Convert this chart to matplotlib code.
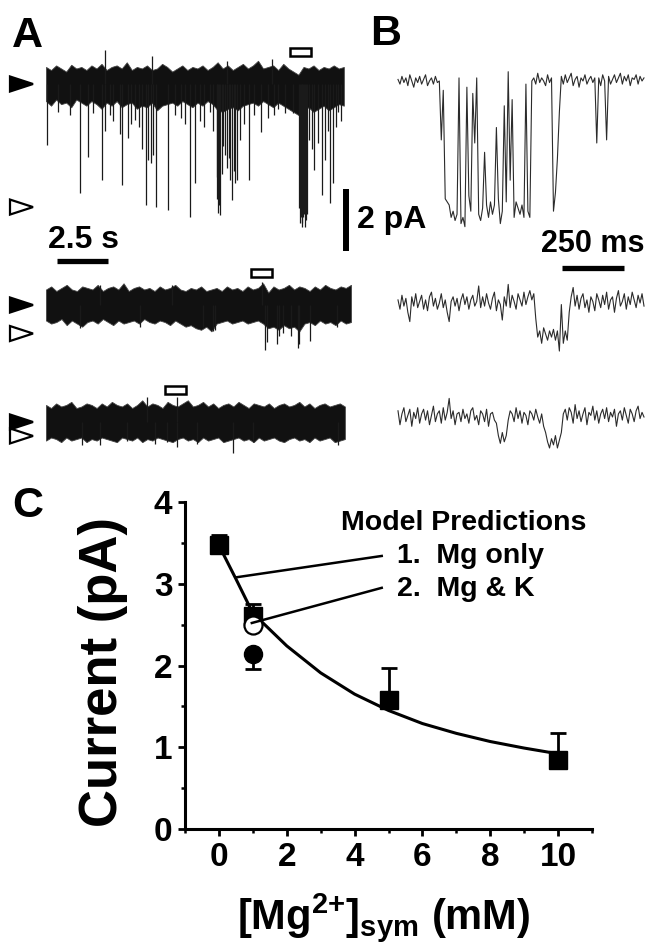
import numpy as np
import matplotlib

matplotlib.use("Agg")

import matplotlib.pyplot as plt  # noqa: E402
from matplotlib.patches import Polygon, Rectangle  # noqa: E402
from matplotlib.ticker import MultipleLocator  # noqa: E402

plt.rcParams["font.family"] = ["Liberation Sans", "DejaVu Sans"]
plt.rcParams["font.weight"] = "bold"
plt.rcParams["mathtext.fontset"] = "custom"
plt.rcParams["mathtext.rm"] = "Liberation Sans:bold"
plt.rcParams["mathtext.bf"] = "Liberation Sans:bold"
plt.rcParams["mathtext.it"] = "Liberation Sans:bold"
plt.rcParams["mathtext.default"] = "rm"

# --------------------------------------------------------------------------
# Data
# --------------------------------------------------------------------------

# Panel A: 15 s records, envelope of the noisy closed-channel band (pA)
A1_top = [0.55, 0.45, 0.6, 0.5, 0.4, 0.62, 0.5, 0.55, 0.45, 0.6,
          0.5, 0.65, 0.45, 0.55, 0.6, 0.5, 0.7, 0.45, 0.55, 0.5,
          0.6, 0.45, 0.5, 0.65, 0.55, 0.4, 0.5, 0.6, 0.45, 0.55,
          0.5, 0.6, 0.45, 0.55, 0.7, 0.5, 0.6, 0.45, 0.55, 0.65,
          0.5, 0.6, 0.75, 0.5, 0.55, 0.6, 0.45, 0.65, 0.5, 0.4,
          0.3, 0.55, 0.5, 0.6, 0.45, 0.55, 0.5, 0.6, 0.5, 0.55]
A1_bot = [-0.55, -0.7, -0.5, -0.65, -0.6, -0.75, -0.5, -0.6, -0.7, -0.55,
          -0.65, -0.8, -0.6, -0.7, -0.55, -0.75, -0.65, -0.6, -0.8, -0.7,
          -0.75, -0.6, -0.85, -0.7, -0.65, -0.6, -0.7, -0.55, -0.65, -0.75,
          -0.6, -0.7, -0.55, -0.65, -0.85, -0.9, -0.8, -0.75, -0.85, -0.7,
          -0.65, -0.6, -0.7, -0.55, -0.65, -0.75, -0.6, -0.7, -0.8, -0.9,
          -1.0, -0.85, -0.75, -0.9, -0.8, -0.7, -0.85, -0.75, -0.65, -0.7]
A1_spike_t = [0.03, 0.6, 1.2, 1.67, 2.07, 2.3, 2.73, 2.89, 2.91, 3.14, 3.3, 3.63,
              3.71, 4.0, 4.15, 4.36, 4.55, 4.69, 4.9, 5.02, 5.17, 5.18, 5.23,
              5.39, 6.0, 6.3, 6.6, 6.8, 7.06, 7.3, 7.55, 7.75, 8.04, 8.2, 8.37,
              8.4, 8.45, 8.5, 8.53, 8.61, 8.7, 8.77, 8.86, 8.89, 8.95, 9.02,
              9.1, 9.2, 9.26, 9.38, 9.51, 9.7, 9.97, 10.2, 10.52, 10.9, 11.06,
              11.2, 11.39, 11.72, 12.1, 12.4, 12.45, 12.48, 12.53, 12.57,
              12.61, 12.65, 12.7, 12.74, 12.78, 12.91, 13.02, 13.15, 13.35,
              13.54, 13.68, 13.8, 13.92, 14.08, 14.2, 14.33, 14.45]
A1_spike_i = [-1.97, -0.9, -1.0, -3.5, -2.35, -0.95, -3.1, -1.5, 1.1, -1.0, -1.2,
              -1.6, -3.26, -1.75, -1.3, -1.15, -1.4, -2.1, -3.9, -2.45, -2.55,
              0.9, -2.3, -3.97, -4.06, -1.0, -1.1, -1.3, -4.3, -3.2, -1.2, -1.4,
              -0.9, -1.5, -3.7, -3.0, -4.16, -3.9, -4.23, -2.9, -2.0, -2.3, 0.75,
              -2.7, -2.4, -3.1, -3.74, -2.8, -3.2, -3.1, -1.8, -1.3, -3.1, -1.0,
              -1.55, -1.1, 0.8, -1.0, -0.8, -0.95, -0.95, -4.0, -4.5, -4.3,
              -4.6, -4.5, -4.3, -4.2, -4.6, -4.4, -4.2, -1.8, -2.1, -2.77,
              -1.9, -3.58, -2.45, -1.5, -3.84, -3.2, -1.4, -0.9, -1.2]

A2_top = [0.5, 0.6, 0.45, 0.55, 0.65, 0.5, 0.45, 0.6, 0.55, 0.5,
          0.65, 0.45, 0.55, 0.6, 0.5, 0.7, 0.45, 0.55, 0.6, 0.5,
          0.55, 0.45, 0.6, 0.5, 0.55, 0.65, 0.5, 0.45, 0.55, 0.5,
          0.6, 0.45, 0.5, 0.55, 0.45, 0.6, 0.5, 0.55, 0.45, 0.6,
          0.5, 0.55, 0.7, 0.4, 0.6, 0.5, 0.55, 0.65, 0.5, 0.6,
          0.55, 0.45, 0.6, 0.5, 0.65, 0.55, 0.5, 0.6, 0.55, 0.65]
A2_bot = [-0.5, -0.6, -0.55, -0.45, -0.65, -0.5, -0.6, -0.7, -0.55, -0.5,
          -0.6, -0.45, -0.55, -0.65, -0.5, -0.6, -0.55, -0.5, -0.6, -0.45,
          -0.55, -0.6, -0.5, -0.55, -0.65, -0.5, -0.6, -0.7, -0.65, -0.75,
          -0.8, -0.7, -0.85, -0.6, -0.55, -0.5, -0.6, -0.55, -0.5, -0.6,
          -0.55, -0.5, -0.6, -0.75, -0.7, -0.8, -0.65, -0.75, -0.7, -0.85,
          -0.6, -0.55, -0.65, -0.5, -0.6, -0.55, -0.65, -0.5, -0.6, -0.55]
A2_spike_t = [1.67, 2.65, 4.6, 6.2, 7.7, 8.2, 8.28, 10.57, 10.74, 10.82, 11.31,
              11.44, 11.63, 12.0, 12.34, 12.42, 12.94, 14.25]
A2_spike_i = [-0.75, 0.65, -0.7, 0.65, -0.7, -0.85, -0.8, 0.75, -1.45, -1.2,
              -1.25, -1.0, -0.9, -1.0, -1.4, -1.25, -1.15, -0.7]

A3_top = [0.55, 0.45, 0.6, 0.5, 0.55, 0.65, 0.45, 0.5, 0.6, 0.55,
          0.45, 0.6, 0.5, 0.65, 0.55, 0.5, 0.6, 0.45, 0.55, 0.7,
          0.5, 0.6, 0.55, 0.45, 0.65, 0.55, 0.5, 0.6, 0.7, 0.5,
          0.55, 0.65, 0.5, 0.6, 0.45, 0.55, 0.6, 0.5, 0.65, 0.55,
          0.45, 0.6, 0.55, 0.5, 0.6, 0.45, 0.55, 0.6, 0.5, 0.55,
          0.65, 0.5, 0.6, 0.45, 0.55, 0.6, 0.5, 0.55, 0.6, 0.5]
A3_bot = [-0.6, -0.5, -0.55, -0.65, -0.5, -0.6, -0.55, -0.5, -0.65, -0.55,
          -0.6, -0.5, -0.55, -0.6, -0.65, -0.5, -0.55, -0.6, -0.5, -0.65,
          -0.55, -0.6, -0.5, -0.55, -0.6, -0.65, -0.55, -0.5, -0.6, -0.55,
          -0.65, -0.5, -0.6, -0.55, -0.5, -0.65, -0.6, -0.55, -0.5, -0.6,
          -0.55, -0.65, -0.5, -0.6, -0.55, -0.5, -0.6, -0.65, -0.55, -0.5,
          -0.6, -0.55, -0.65, -0.5, -0.6, -0.55, -0.5, -0.65, -0.6, -0.55]
A3_spike_t = [1.75, 2.65, 3.95, 4.93, 5.34, 5.92, 6.41, 6.41, 7.39, 9.18, 10.16, 14.33]
A3_spike_i = [-0.75, -0.75, -0.62, 0.8, -0.7, -0.65, -0.8, 0.8, -0.7, -1.0, -0.65, -0.75]

A_end_s = [14.6, 14.95, 14.65]
closed_level = [0.0, 0.0, 0.0]
open_level = [-3.97, -0.92, -0.45]
box_start_s = [11.96, 10.05, 5.83]

# Panel B: 1 s expanded segments, sampled every 8 ms (pA)
B1 = [0.05, -0.1, 0.15, -0.05, 0.1, -0.15, 0.2, 0.0, -0.2, 0.1, -0.05, 0.15,
      -0.1, 0.05, 0.2, -0.15, 0.0, 0.1, -0.1, 0.15, -0.05, 0.0,
      -1.9, -0.3, -3.8, -3.9, -4.0, -4.4, -4.2, -4.5, -4.3, 0.1, -4.6, -4.4,
      -4.7, -0.2, -3.7, -4.2, -0.4, -2.0, 0.1, -4.3, -4.5, -4.1, -2.3, -4.0,
      -4.4, -3.9, -4.3, -4.0, -1.5, -3.8, -4.6, -4.2, -0.8, -3.9, 0.3, -3.2,
      -0.6, -4.4, -3.9, -4.1, -4.3, -4.0, -4.4, -0.1, -4.2, -4.4, 0.0,
      0.1, -0.1, 0.25, -0.05, 0.1, 0.0, -0.15, 0.2, -0.05, 0.1,
      -4.2, -3.6, -2.5, -1.0,
      0.15, -0.1, 0.2, -0.05, 0.1, 0.25, -0.15, 0.05, 0.15, -0.2, 0.1, 0.0,
      0.2, -0.1, 0.05, 0.15, -0.05, 0.1,
      -2.0, 0.1, -0.15, 0.2, 0.0, -1.9,
      0.15, -0.1, 0.05, 0.2, -0.05, 0.1, 0.25, -0.1, 0.15, 0.0, 0.2, -0.15,
      0.1, 0.05, 0.2, -0.1, 0.15, 0.0, 0.1]
B2 = [0.1, -0.2, 0.25, -0.1, 0.15, -0.3, -0.6, 0.2, -0.1, 0.3, -0.15, 0.05,
      0.25, -0.2, 0.1, -0.25, 0.2, 0.35, -0.1, 0.15, -0.2, 0.0, 0.3, -0.15,
      0.1, -0.3, -0.6, 0.05, 0.2, -0.1, 0.15, -0.25, 0.1, 0.3, -0.05, 0.2,
      -0.2, 0.1, 0.25, -0.1, 0.05, 0.55, -0.15, 0.2, -0.1, 0.3, 0.0, -0.2,
      0.15, 0.35, -0.25, 0.1, -0.05, -0.55, 0.2, -0.1, 0.6, -0.15, 0.25,
      0.05, -0.2, 0.3, 0.1, -0.1, 0.35, -0.05, 0.2, 0.4, 0.1, 0.3,
      -0.5, -1.1, -0.9, -1.3, -0.8, -1.0, -1.2, -0.9, -1.1, -0.85, -1.2,
      -0.9, -1.55, -0.05, -1.3, -0.9, -1.2, -0.3,
      0.2, 0.5, -0.1, 0.25, -0.2, 0.15, 0.3, -0.15, 0.1, -0.3, 0.2, 0.05,
      -0.25, 0.3, 0.1, -0.15, 0.25, -0.05, 0.35, -0.2, 0.1, 0.2, -0.3, 0.15,
      0.4, -0.1, 0.05, 0.3, -0.2, 0.2, -0.05, 0.35, 0.1, -0.15, 0.25, 0.0,
      0.3, -0.1]
B3 = [0.2, -0.25, 0.1, 0.3, -0.15, 0.05, 0.25, -0.3, 0.15, -0.05, 0.3, -0.2,
      0.1, 0.25, -0.1, 0.2, -0.25, 0.05, 0.35, -0.15, 0.1, 0.2, -0.2, 0.3,
      -0.1, 0.15, 0.6, -0.05, 0.2, -0.25, 0.1, 0.15, -0.15, 0.25, -0.05,
      0.1, -0.2, 0.2, 0.3, -0.1, 0.05, -0.25, 0.2, 0.1, -0.15, 0.25, -0.3,
      0.1, 0.15, -0.1, -0.2,
      -0.6, -0.85, -0.5, -0.8, -0.6,
      -0.1, 0.2, 0.1, -0.15, 0.3, -0.05, 0.2, -0.2, 0.15, 0.05, -0.25, 0.2,
      0.1, -0.1, 0.25, 0.0, -0.2, 0.1, -0.3,
      -0.5, -0.8, -1.0, -0.7, -0.9, -0.6, -1.0, -0.75, -0.5,
      0.1, 0.25, -0.1, 0.3, 0.15, -0.2, 0.4, -0.05, 0.2, -0.15, 0.1, 0.3,
      -0.25, 0.15, 0.05, 0.35, -0.1, 0.2, -0.2, 0.1, 0.25, -0.05, 0.3,
      -0.15, 0.15, 0.0, 0.25, -0.3, 0.1, 0.2, -0.1, 0.3, 0.05, -0.2, 0.25,
      0.1, -0.15, 0.2, 0.35, -0.05, 0.15, 0.0]
B_duration_ms = 1000

# Panel C
mg_conc = [0, 1, 5, 10]
current_mean = [3.48, 2.6, 1.58, 0.85]
current_err_up = [0.12, 0.15, 0.39, 0.33]
pred_mg_only = 2.5     # open circle at 1 mM
pred_mg_k = 2.14       # filled circle at 1 mM
pred_mg_k_err = 0.18
pred_conc = 1
fit_x = [0, 0.5, 1, 2, 3, 4, 5, 6, 7, 8, 9, 10]
fit_y = [3.47, 3.06, 2.64, 2.24, 1.91, 1.65, 1.45, 1.29, 1.17, 1.07, 0.99, 0.92]

# --------------------------------------------------------------------------
# Layout helpers (pixel units of the 645 x 944 output)
# --------------------------------------------------------------------------

W, H = 645, 944
PX_S = 20.4      # px per second, panel A
PX_MS = 0.246    # px per ms, panel B
PX_PA = 31.0     # px per pA, panels A and B
Y_REF = 84       # pixel row of 0 pA in the trace axes


def px_box(x0, y0, x1, y1):
    return [x0 / W, 1 - y1 / H, (x1 - x0) / W, (y1 - y0) / H]


def ypa(py):
    return (Y_REF - py) / PX_PA


fig = plt.figure(figsize=(W / 100, H / 100), dpi=100)
fig.patch.set_facecolor("white")

for label, x, y in [("A", 12, 47), ("B", 370, 45), ("C", 12, 517)]:
    fig.text(x / W, 1 - y / H, label, fontsize=31, fontweight="bold",
             ha="left", va="baseline")

# ---- Panel A ---------------------------------------------------------------
axA = fig.add_axes(px_box(0, 30, 380, 470))
axA.set_xlim(-46 / PX_S, (380 - 46) / PX_S)
axA.set_ylim(ypa(470), ypa(30))
axA.axis("off")

a_offsets = [ypa(84), ypa(305), ypa(422)]
a_traces = [
    (A1_top, A1_bot, A1_spike_t, A1_spike_i),
    (A2_top, A2_bot, A2_spike_t, A2_spike_i),
    (A3_top, A3_bot, A3_spike_t, A3_spike_i),
]
tri_x0, tri_x1 = (10 - 46) / PX_S, (33 - 46) / PX_S
tri_h = 7.5 / PX_PA
for i, (top, bot, st, si) in enumerate(a_traces):
    off = a_offsets[i]
    t = np.linspace(0, A_end_s[i], len(top))
    axA.fill_between(t, off + np.array(bot), off + np.array(top),
                     color="#111111", lw=0.6, edgecolor="#444444")
    axA.vlines(st, off, off + np.array(si), color="#1a1a1a", lw=0.9)
    # closed (filled) and open (hollow) level markers
    for level, fc in [(open_level[i], "white"), (closed_level[i], "black")]:
        y = off + level
        axA.add_patch(Polygon([(tri_x0, y + tri_h), (tri_x0, y - tri_h), (tri_x1, y)],
                              closed=True, fc=fc, ec="black", lw=1.6, zorder=4))
    # box marking the expanded segment in B
    axA.add_patch(Rectangle((box_start_s[i], off + 0.9), 1.05, 0.25,
                            fc="white", ec="black", lw=1.8, zorder=4))

# scale bars
axA.plot([(346 - 46) / PX_S] * 2, [ypa(189), ypa(251)], color="black", lw=4.3,
         solid_capstyle="butt")
axA.plot([(57 - 46) / PX_S, (57 - 46) / PX_S + 2.5], [ypa(261)] * 2, color="black",
         lw=3.8, solid_capstyle="butt")
axA.text((357 - 46) / PX_S, ypa(220), "2 pA", fontsize=23, fontweight="bold",
         ha="left", va="center")
axA.text((84 - 46) / PX_S, ypa(240), "2.5 s", fontsize=23, fontweight="bold",
         ha="center", va="center")

# ---- Panel B ---------------------------------------------------------------
axB = fig.add_axes(px_box(380, 30, 645, 470))
axB.set_xlim((380 - 398) / PX_MS, (645 - 398) / PX_MS)
axB.set_ylim(ypa(470), ypa(30))
axB.axis("off")

b_offsets = [ypa(81), ypa(303), ypa(417)]
for off, vals in zip(b_offsets, [B1, B2, B3]):
    t = np.linspace(0, B_duration_ms, len(vals))
    axB.plot(t, off + np.array(vals), color="#2b2b2b", lw=0.8)

bar_x0 = (562 - 398) / PX_MS
axB.plot([bar_x0, bar_x0 + 250], [ypa(268)] * 2, color="black", lw=3.8,
         solid_capstyle="butt")
axB.text(bar_x0 + 125, ypa(244), "250 ms", fontsize=22, fontweight="bold",
         ha="center", va="center")

# ---- Panel C ---------------------------------------------------------------
axC = fig.add_axes(px_box(185, 502, 592, 829))
axC.set_xlim(-1, 11)
axC.set_ylim(0, 4)
for side in ["top", "right"]:
    axC.spines[side].set_visible(False)
for side in ["left", "bottom"]:
    axC.spines[side].set_linewidth(2.2)
axC.set_xticks([0, 2, 4, 6, 8, 10])
axC.xaxis.set_minor_locator(MultipleLocator(1))
axC.yaxis.set_major_locator(MultipleLocator(1))
axC.yaxis.set_minor_locator(MultipleLocator(0.5))
axC.tick_params(which="major", length=5, width=2, labelsize=24, pad=4)
axC.tick_params(which="minor", length=3, width=1.8)
for lab in axC.get_xticklabels() + axC.get_yticklabels():
    lab.set_fontweight("bold")

axC.plot(fit_x, fit_y, color="black", lw=2.2, zorder=2)
axC.errorbar(mg_conc, current_mean, yerr=[np.zeros(len(mg_conc)), current_err_up],
             fmt="none", ecolor="black", elinewidth=2.0, capsize=6, capthick=2.0,
             zorder=2)
axC.plot(mg_conc, current_mean, "s", color="black", ms=12.5, zorder=3)
axC.errorbar([pred_conc], [pred_mg_k], yerr=[[pred_mg_k_err], [0]], fmt="none",
             ecolor="black", elinewidth=2.0, capsize=6, capthick=2.0, zorder=2)
axC.plot([pred_conc], [pred_mg_k], "o", color="black", ms=13, zorder=3)
axC.plot([pred_conc], [pred_mg_only], "o", mfc="white", mec="black", mew=1.6,
         ms=13, zorder=4)

# leader lines to the prediction labels
axC.plot([0.53, 4.8], [3.08, 3.34], color="black", lw=1.8, zorder=5)
axC.plot([0.97, 4.8], [2.52, 2.95], color="black", lw=1.8, zorder=5)
axC.text(3.6, 3.74, "Model Predictions", fontsize=20.5, fontweight="bold",
         ha="left", va="center")
axC.text(5.24, 3.34, "1.  Mg only", fontsize=20.5, fontweight="bold",
         ha="left", va="center")
axC.text(5.24, 2.94, "2.  Mg & K", fontsize=20.5, fontweight="bold",
         ha="left", va="center")

fig.text(103 / W, 1 - 672 / H, "Current (pA)", fontsize=38, fontweight="bold",
         rotation=90, ha="center", va="center")
fig.text(384 / W, 1 - 918 / H, r"$[\mathrm{Mg}^{2{+}}]_{\mathrm{sym}}$ (mM)",
         fontsize=30, fontweight="bold", ha="center", va="center")

fig.savefig("out.png", dpi=100, facecolor="white")
